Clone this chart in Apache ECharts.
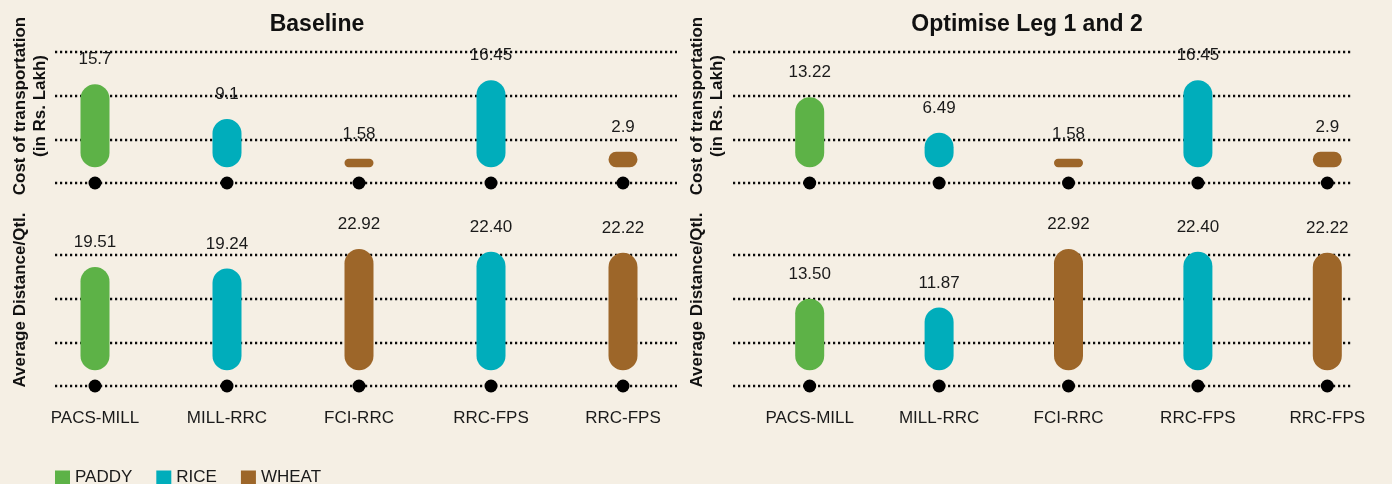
<!DOCTYPE html>
<html>
<head>
<meta charset="utf-8">
<script src="https://cdn.jsdelivr.net/npm/echarts@6/dist/echarts.min.js"></script>
<style>
html,body{margin:0;padding:0;background:#f5efe4;}
#chart{width:1392px;height:484px;}
</style>
</head>
<body>
<div id="chart"></div>
<script>
// ---- data ----
const categories = ['PACS-MILL', 'MILL-RRC', 'FCI-RRC', 'RRC-FPS', 'RRC-FPS'];
const routeCommodity = ['PADDY', 'RICE', 'WHEAT', 'RICE', 'WHEAT'];
const commodities = ['PADDY', 'RICE', 'WHEAT'];
const costBaseline = [15.7, 9.1, 1.58, 16.45, 2.9];
const costOptimised = [13.22, 6.49, 1.58, 16.45, 2.9];
const distBaseline = [19.51, 19.24, 22.92, 22.40, 22.22];
const distOptimised = [13.50, 11.87, 22.92, 22.40, 22.22];
const panelTitles = ['Baseline', 'Optimise Leg 1 and 2'];
const costAxisName = 'Cost of transportation\n(in Rs. Lakh)';
const distAxisName = 'Average Distance/Qtl.';

// ---- styles ----
const FONT = '"Liberation Sans", Arial, sans-serif';
const colorOf = { PADDY: '#5db247', RICE: '#00adbb', WHEAT: '#9d6629' };
const BASE = -3, TOP = 25;

const panels = [
  { values: costBaseline,  fmt: v => String(v),    line: { left: 55,  width: 622, top: 52,  height: 131 }, bar: { left: 29,  width: 660,   top: 35,  height: 148 }, labels: false },
  { values: costOptimised, fmt: v => String(v),    line: { left: 733, width: 618, top: 52,  height: 131 }, bar: { left: 745, width: 657.5, top: 35,  height: 148 }, labels: false },
  { values: distBaseline,  fmt: v => v.toFixed(2), line: { left: 55,  width: 622, top: 255, height: 131 }, bar: { left: 29,  width: 660,   top: 238, height: 148 }, labels: true },
  { values: distOptimised, fmt: v => v.toFixed(2), line: { left: 733, width: 618, top: 255, height: 131 }, bar: { left: 745, width: 657.5, top: 238, height: 148 }, labels: true }
];

const grid = [], xAxis = [], yAxis = [], series = [];
const dotted = { color: '#0a0a0a', width: 2.4, type: [2.2, 2.8] };

panels.forEach(p => {
  grid.push(Object.assign({ containLabel: false }, p.line));
  const gi = grid.length - 1;
  xAxis.push({ gridIndex: gi, type: 'value', min: 0, max: 1, show: false });
  yAxis.push({ gridIndex: gi, type: 'value', min: 0, max: 3, interval: 1,
    axisLine: { show: false }, axisTick: { show: false }, axisLabel: { show: false },
    splitLine: { show: true, lineStyle: dotted } });
});

panels.forEach((p, pi) => {
  grid.push(Object.assign({ containLabel: false }, p.bar));
  const gi = grid.length - 1;
  xAxis.push({ gridIndex: gi, type: 'category', data: categories, boundaryGap: true,
    axisLine: { show: false }, axisTick: { show: false }, splitLine: { show: false },
    axisLabel: { show: p.labels, interval: 0, margin: 24, fontSize: 17, color: '#1a1a1a', fontFamily: FONT } });
  yAxis.push({ gridIndex: gi, type: 'value', min: BASE, max: TOP, show: false, splitLine: { show: false } });
  commodities.forEach(c => {
    series.push({
      type: 'bar', name: c, xAxisIndex: gi, yAxisIndex: gi, stack: 'panel' + pi,
      barWidth: 29,
      data: p.values.map((v, i) => routeCommodity[i] === c ? v : '-'),
      itemStyle: { color: colorOf[c], borderRadius: 14.5 },
      label: { show: true, position: 'top', distance: 16, fontSize: 17, color: '#1a1a1a', fontFamily: FONT,
        formatter: d => p.fmt(d.value) },
      z: 3
    });
  });
  series.push({
    type: 'scatter', name: 'base', xAxisIndex: gi, yAxisIndex: gi, silent: true,
    symbol: 'circle', symbolSize: 13, itemStyle: { color: '#000', opacity: 1 },
    data: categories.map((_, i) => [i, BASE]), z: 4
  });
});

const chart = echarts.init(document.getElementById('chart'), null, { renderer: 'canvas' });
chart.setOption({
  backgroundColor: '#f5efe4',
  animation: false,
  title: [
    { text: panelTitles[0], left: 312, top: 8, textAlign: 'center', textStyle: { fontSize: 23, fontWeight: 'bold', color: '#111', fontFamily: FONT } },
    { text: panelTitles[1], left: 1022, top: 8, textAlign: 'center', textStyle: { fontSize: 23, fontWeight: 'bold', color: '#111', fontFamily: FONT } }
  ],
  legend: {
    data: commodities, left: 55, top: 469, padding: 0, itemWidth: 15, itemHeight: 14, itemGap: 24,
    icon: 'rect', textStyle: { fontSize: 17, color: '#1a1a1a', fontFamily: FONT }, selectedMode: false
  },
  graphic: [
    { type: 'text', x: 30, y: 106, rotation: Math.PI / 2, style: { text: costAxisName, font: 'bold 17px ' + FONT, align: 'center', verticalAlign: 'middle', lineHeight: 20, fill: '#111' } },
    { type: 'text', x: 707, y: 106, rotation: Math.PI / 2, style: { text: costAxisName, font: 'bold 17px ' + FONT, align: 'center', verticalAlign: 'middle', lineHeight: 20, fill: '#111' } },
    { type: 'text', x: 20, y: 300, rotation: Math.PI / 2, style: { text: distAxisName, font: 'bold 17px ' + FONT, align: 'center', verticalAlign: 'middle', fill: '#111' } },
    { type: 'text', x: 697, y: 300, rotation: Math.PI / 2, style: { text: distAxisName, font: 'bold 17px ' + FONT, align: 'center', verticalAlign: 'middle', fill: '#111' } }
  ],
  grid, xAxis, yAxis, series
});
</script>
</body>
</html>
